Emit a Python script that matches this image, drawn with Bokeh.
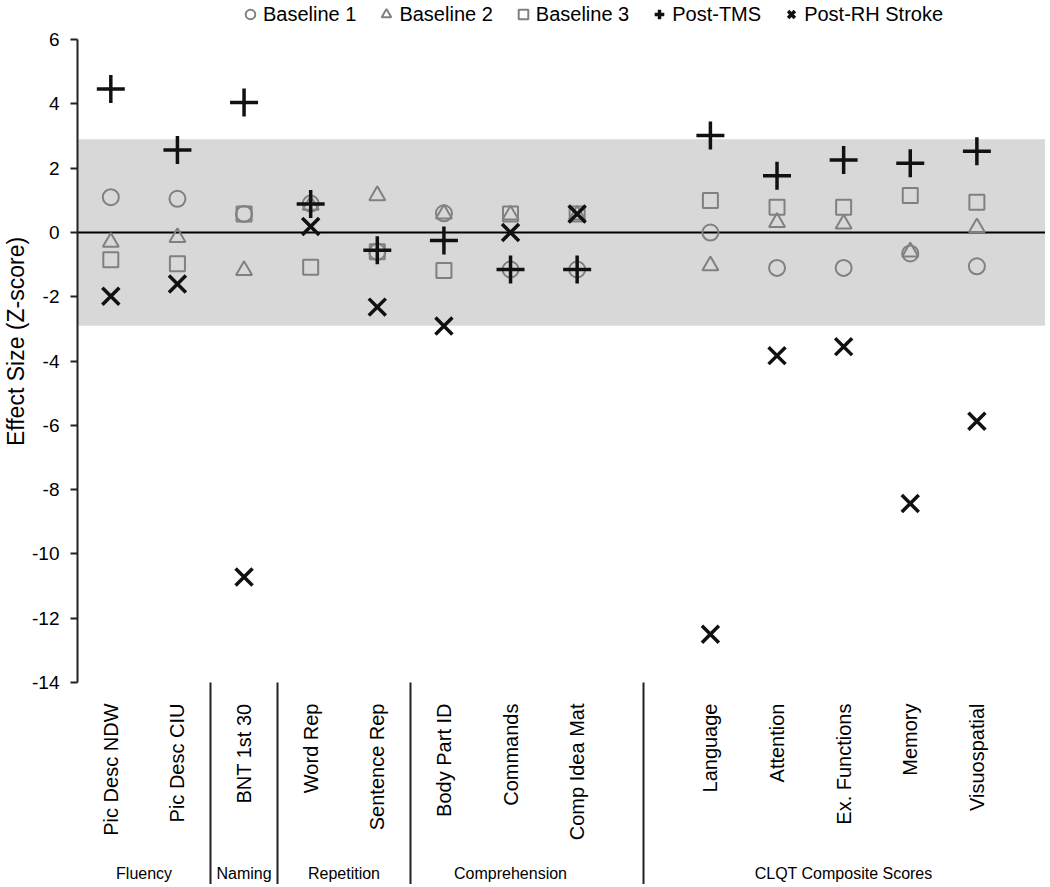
import math
from bokeh.plotting import figure
from bokeh.models import (ColumnDataSource, Range1d, LinearAxis, FixedTicker,
                          BoxAnnotation, Span, Legend, LegendItem)
from bokeh.embed import file_html
from bokeh.resources import INLINE

# ---------------- data ----------------
categories = ["Pic Desc NDW", "Pic Desc CIU", "BNT 1st 30", "Word Rep", "Sentence Rep",
              "Body Part ID", "Commands", "Comp Idea Mat",
              "Language", "Attention", "Ex. Functions", "Memory", "Visuospatial"]
groups = ["Fluency", "Naming", "Repetition", "Comprehension", "CLQT Composite Scores"]
group_sizes = [2, 1, 2, 3, 5]

baseline1 = [1.10, 1.05, 0.58, 0.90, -0.60, 0.60, -1.15, -1.15, 0.00, -1.10, -1.10, -0.65, -1.05]
baseline2 = [-0.30, -0.15, -1.18, 0.85, 1.15, 0.58, 0.55, 0.55, -1.03, 0.32, 0.27, -0.60, 0.15]
baseline3 = [-0.85, -0.97, 0.58, -1.08, -0.60, -1.18, 0.58, 0.58, 1.00, 0.79, 0.79, 1.15, 0.94]
post_tms = [4.47, 2.57, 4.05, 0.89, -0.55, -0.25, -1.15, -1.15, 3.02, 1.77, 2.26, 2.16, 2.53]
post_rh = [-1.98, -1.60, -10.72, 0.19, -2.32, -2.91, 0.00, 0.58, -12.50, -3.83, -3.55, -8.43, -5.87]

y_ticks = [-14, -12, -10, -8, -6, -4, -2, 0, 2, 4, 6]
band_limit = 2.9

FONT = "Liberation Sans"
GRAY = "#808080"
BLACK = "#111111"

# ---------------- positions (one empty slot before the CLQT group) ----------------
xs = []
group_members = []
pos = 0
for g, n in zip(groups, group_sizes):
    if g == "CLQT Composite Scores":
        pos += 1
    members = []
    for _ in range(n):
        xs.append(pos)
        members.append(pos)
        pos += 1
    group_members.append(members)
group_centers = [sum(m) / len(m) for m in group_members]
separators = [(group_members[i][-1] + group_members[i + 1][0]) / 2 for i in range(len(groups) - 1)]

src = ColumnDataSource(dict(x=xs, b1=baseline1, b2=baseline2, b3=baseline3, tms=post_tms, rh=post_rh))

W, H = 1045, 884
BOTTOM = 202
SEP_LEN = BOTTOM
LABEL_GAP = 21
Y_TOP = 7.22  # frame reaches the top of the canvas so the legend can sit there

p = figure(width=W, height=H, x_range=Range1d(-0.5, 14.03), y_range=Range1d(-14, Y_TOP),
           output_backend="svg", toolbar_location=None,
           x_axis_location=None, y_axis_location=None,
           min_border_left=75, min_border_right=0, min_border_top=0, min_border_bottom=BOTTOM)
p.outline_line_color = None
p.grid.visible = False
p.background_fill_color = "white"

# band and zero line
p.add_layout(BoxAnnotation(bottom=-band_limit, top=band_limit, fill_color="#d8d8d8",
                           fill_alpha=1, line_color=None, level="underlay"))
p.add_layout(Span(location=0, dimension="width", line_color="black", line_width=2, level="underlay"))

# y axis
yaxis = LinearAxis(ticker=FixedTicker(ticks=y_ticks, minor_ticks=[]), bounds=(min(y_ticks), max(y_ticks)),
                   major_label_overrides={t: str(t) for t in y_ticks},
                   major_tick_out=7, major_tick_in=0, major_tick_line_width=2,
                   axis_line_width=2, axis_line_color="#222222", major_tick_line_color="#222222",
                   major_label_standoff=11, major_label_text_font=FONT,
                   major_label_text_font_size="19px", major_label_text_color="black",
                   axis_label="Effect Size (Z-score)", axis_label_standoff=0,
                   axis_label_text_font=FONT, axis_label_text_font_size="23px",
                   axis_label_text_font_style="normal", axis_label_text_color="black")
p.add_layout(yaxis, "left")

# category axis with group separators as long minor ticks
xaxis = LinearAxis(ticker=FixedTicker(ticks=xs, minor_ticks=separators),
                   major_label_overrides={x: c for x, c in zip(xs, categories)},
                   major_label_orientation=math.pi / 2,
                   major_tick_out=0, major_tick_in=0, major_tick_line_color=None,
                   minor_tick_out=SEP_LEN, minor_tick_in=0, minor_tick_line_width=2,
                   minor_tick_line_color="#222222",
                   axis_line_color=None, major_label_standoff=LABEL_GAP - SEP_LEN,
                   major_label_text_font=FONT, major_label_text_font_size="20px",
                   major_label_text_color="black")
p.add_layout(xaxis, "below")

gaxis = LinearAxis(ticker=FixedTicker(ticks=group_centers, minor_ticks=[]),
                   major_label_overrides={x: g for x, g in zip(group_centers, groups)},
                   major_tick_out=0, major_tick_in=0, major_tick_line_color=None,
                   minor_tick_line_color=None, axis_line_color=None,
                   major_label_standoff=21, major_label_text_font=FONT,
                   major_label_text_font_size="16px", major_label_text_color="black")
p.add_layout(gaxis, "below")

# markers
r1 = p.scatter("x", "b1", source=src, marker="circle", size=16, fill_color=None,
               line_color=GRAY, line_width=2)
r2 = p.scatter("x", "b2", source=src, marker="triangle", size=16, fill_color=None,
               line_color=GRAY, line_width=2)
r3 = p.scatter("x", "b3", source=src, marker="square", size=15, fill_color=None,
               line_color=GRAY, line_width=2)
r4 = p.scatter("x", "tms", source=src, marker="cross", size=28, line_color=BLACK, line_width=3.5)
r5 = p.scatter("x", "rh", source=src, marker="x", size=24, line_color=BLACK, line_width=3.5)

legend = Legend(items=[LegendItem(label="Baseline 1", renderers=[r1]),
                       LegendItem(label="Baseline 2", renderers=[r2]),
                       LegendItem(label="Baseline 3", renderers=[r3]),
                       LegendItem(label="Post-TMS", renderers=[r4]),
                       LegendItem(label="Post-RH Stroke", renderers=[r5])],
                orientation="horizontal", location=(161, 655),
                glyph_width=24, glyph_height=26, label_standoff=1, spacing=18,
                padding=0, margin=0, border_line_color=None, background_fill_alpha=0,
                label_text_font=FONT, label_text_font_size="20px", label_text_color="black")
p.add_layout(legend)

open("out.html", "w").write(file_html(p, INLINE))
